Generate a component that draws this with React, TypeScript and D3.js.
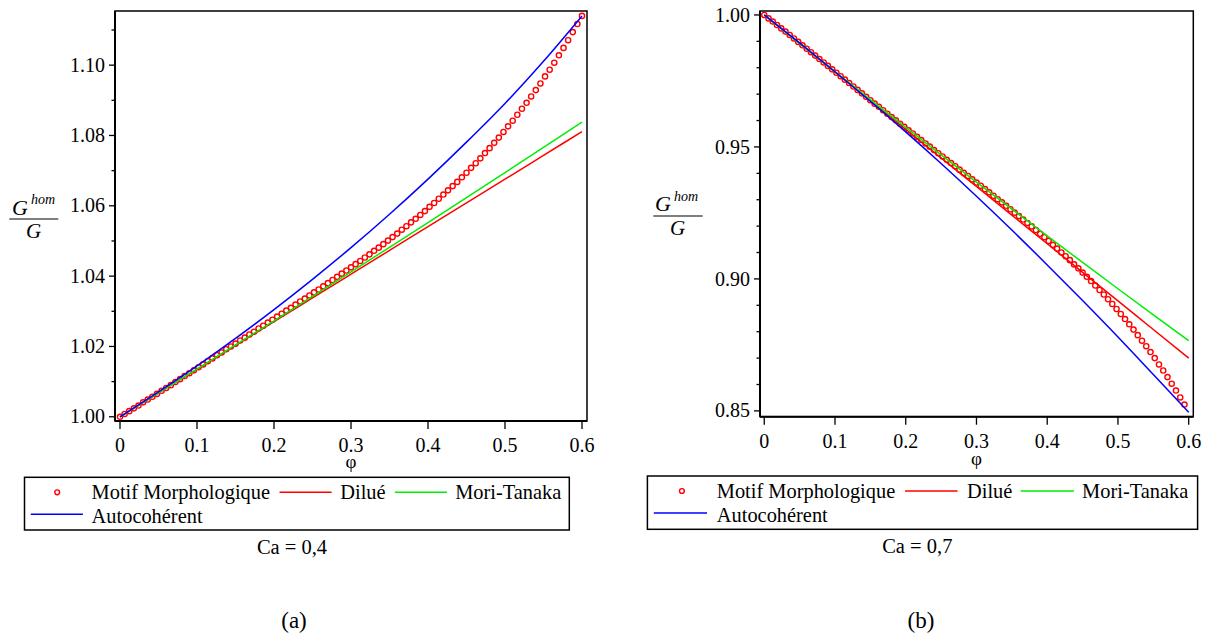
import React from 'react';
import * as d3 from 'd3';

// ---------- data ----------
const phiTicks = [0, 0.1, 0.2, 0.3, 0.4, 0.5, 0.6];
const phiTickLabels = ['0', '0.1', '0.2', '0.3', '0.4', '0.5', '0.6'];
const phiLine = [0, 0.05, 0.1, 0.15, 0.2, 0.25, 0.3, 0.35, 0.4, 0.45, 0.5, 0.55, 0.6];

// Ca = 0,4
const leftDilue = [1.0, 1.00676, 1.01352, 1.02028, 1.02703, 1.03379, 1.04055, 1.04731, 1.05407, 1.06083, 1.06758, 1.07434, 1.0811];
const leftMT = [1.0, 1.00677, 1.01358, 1.02042, 1.0273, 1.03423, 1.04119, 1.04819, 1.05523, 1.06231, 1.06943, 1.0766, 1.0838];
const leftAuto = [1.0, 1.0071, 1.0145, 1.0223, 1.0305, 1.0391, 1.0481, 1.0576, 1.0676, 1.0781, 1.0891, 1.1011, 1.114];
const leftMotif = [
  1.0, 1.0008, 1.0016, 1.0024, 1.0032, 1.0041, 1.0049, 1.0057, 1.0065, 1.0074,
  1.0082, 1.009, 1.0099, 1.0107, 1.0116, 1.0124, 1.0132, 1.0141, 1.0149, 1.0158,
  1.0166, 1.0175, 1.0183, 1.0192, 1.02, 1.0208, 1.0217, 1.0225, 1.0234, 1.0242,
  1.0251, 1.0259, 1.0268, 1.0276, 1.0285, 1.0293, 1.0302, 1.031, 1.0319, 1.0328,
  1.0336, 1.0345, 1.0354, 1.0362, 1.0371, 1.038, 1.0389, 1.0398, 1.0407, 1.0416,
  1.0425, 1.0434, 1.0443, 1.0453, 1.0462, 1.0472, 1.0481, 1.0491, 1.0501, 1.0511,
  1.0521, 1.0532, 1.0542, 1.0553, 1.0563, 1.0574, 1.0585, 1.0597, 1.0608, 1.062,
  1.0632, 1.0644, 1.0656, 1.0668, 1.0681, 1.0694, 1.0708, 1.0721, 1.0735, 1.075,
  1.0764, 1.0779, 1.0794, 1.081, 1.0826, 1.0842, 1.0859, 1.0876, 1.0893, 1.0911,
  1.0929, 1.0948, 1.0968, 1.0987, 1.1007, 1.1028, 1.1049, 1.1071, 1.1094, 1.1117,
  1.114,
];

// Ca = 0,7
const rightDilue = [1.0, 0.98917, 0.97833, 0.9675, 0.95667, 0.94583, 0.935, 0.92417, 0.91333, 0.9025, 0.89167, 0.88083, 0.87];
const rightMT = [1.0, 0.98921, 0.97852, 0.96793, 0.95742, 0.94701, 0.93669, 0.92646, 0.9163, 0.90625, 0.89627, 0.88639, 0.8766];
const rightAuto = [1.0, 0.9894, 0.9785, 0.9673, 0.9557, 0.9437, 0.9313, 0.9185, 0.9053, 0.8918, 0.878, 0.8638, 0.8495];
const rightMotif = [
  1.0, 0.9987, 0.9975, 0.9962, 0.9949, 0.9937, 0.9924, 0.9911, 0.9898, 0.9885,
  0.9872, 0.9859, 0.9846, 0.9833, 0.982, 0.9807, 0.9794, 0.9781, 0.9768, 0.9755,
  0.9742, 0.9729, 0.9716, 0.9703, 0.969, 0.9677, 0.9664, 0.9652, 0.9639, 0.9626,
  0.9613, 0.9601, 0.9588, 0.9576, 0.9563, 0.9551, 0.9538, 0.9526, 0.9513, 0.9501,
  0.9488, 0.9476, 0.9464, 0.9451, 0.9439, 0.9427, 0.9414, 0.9402, 0.939, 0.9377,
  0.9365, 0.9353, 0.934, 0.9328, 0.9315, 0.9302, 0.929, 0.9277, 0.9264, 0.9251,
  0.9238, 0.9225, 0.9212, 0.9199, 0.9185, 0.9171, 0.9158, 0.9144, 0.9129, 0.9115,
  0.91, 0.9086, 0.9071, 0.9055, 0.904, 0.9024, 0.9008, 0.8992, 0.8975, 0.8958,
  0.8941, 0.8923, 0.8905, 0.8886, 0.8867, 0.8848, 0.8828, 0.8808, 0.8787, 0.8766,
  0.8745, 0.8723, 0.87, 0.8676, 0.8653, 0.8628, 0.8603, 0.8577, 0.8551, 0.8524,
];
const motifStep = 0.006;

const leftYTicks = [1.0, 1.02, 1.04, 1.06, 1.08, 1.1];
const leftYMinor = [1.01, 1.03, 1.05, 1.07, 1.09, 1.11];
const rightYTicks = [0.85, 0.9, 0.95, 1.0];
const rightYMinor = [0.86, 0.87, 0.88, 0.89, 0.91, 0.92, 0.93, 0.94, 0.96, 0.97, 0.98, 0.99];

const legendLabels = ['Motif Morphologique', 'Dilué', 'Mori-Tanaka', 'Autocohérent'];
const captions = ['Ca = 0,4', 'Ca = 0,7'];
const panelTags = ['(a)', '(b)'];

// ---------- style ----------
const RED = '#ff0000';
const GREEN = '#00ee00';
const BLUE = '#0000ff';
const FONT = 'Liberation Serif';

type Layout = {
  x0: number; x1: number; y0: number; y1: number;
  xDom: [number, number]; yDom: [number, number];
  yFmt: (v: number) => string;
  yTicks: number[]; yMinor: number[];
  phiBase: number; tickBase: number;
  lab: { topGx: number; topGy: number; homX: number; homY: number; barX0: number; barX1: number; barY: number; botGx: number; botGy: number };
  legend: { bx0: number; bx1: number; by0: number; by1: number; marker: number; motifText: number; red: [number, number]; diluText: number; green: [number, number]; mtText: number; blue: [number, number]; autoText: number };
  capX: number; capY: number; tagX: number; tagY: number;
};

const leftLayout: Layout = {
  x0: 115, x1: 587, y0: 11, y1: 421,
  xDom: [-0.0065, 0.6065], yDom: [0.9988, 1.1154],
  yFmt: d3.format('.2f'),
  yTicks: leftYTicks, yMinor: leftYMinor,
  phiBase: 468, tickBase: 452,
  lab: { topGx: 12, topGy: 215, homX: 31, homY: 204, barX0: 9.3, barX1: 58.3, barY: 219, botGx: 33.5, botGy: 238 },
  legend: { bx0: 24.5, bx1: 569.3, by0: 477.3, by1: 530, marker: 57.2, motifText: 91.6, red: [279.5, 331.6], diluText: 340.3, green: [394.8, 446.9], mtText: 455.2, blue: [30.8, 82.9], autoText: 91.6 },
  capX: 292, capY: 554, tagX: 294, tagY: 628,
};

const rightLayout: Layout = {
  x0: 760, x1: 1193.3, y0: 11, y1: 416.7,
  xDom: [-0.006, 0.6065], yDom: [0.8478, 1.0015],
  yFmt: d3.format('.2f'),
  yTicks: rightYTicks, yMinor: rightYMinor,
  phiBase: 465, tickBase: 448,
  lab: { topGx: 655, topGy: 211, homX: 674, homY: 201, barX0: 653.3, barX1: 702.7, barY: 216, botGx: 677.5, botGy: 235 },
  legend: { bx0: 647.4, bx1: 1197.6, by0: 476, by1: 529.3, marker: 681.9, motifText: 716.8, red: [905, 957.6], diluText: 967, green: [1020.6, 1073.9], mtText: 1082.1, blue: [653.8, 707], autoText: 716.8 },
  capX: 917.3, capY: 553, tagX: 921, tagY: 628,
};

function T({ x, y, size, italic, anchor, dy, children }: { x: number; y: number; size: number; italic?: boolean; anchor?: string; dy?: string; children: React.ReactNode }) {
  return (
    <text x={x} y={y} dy={dy} fontFamily={FONT} fontSize={size} fontStyle={italic ? 'italic' : 'normal'} textAnchor={anchor || 'start'} fill="#000">
      {children}
    </text>
  );
}

function Panel({ L, dilue, mt, auto, motif, caption, tag }: { L: Layout; dilue: number[]; mt: number[]; auto: number[]; motif: number[]; caption: string; tag: string }) {
  const x = d3.scaleLinear().domain(L.xDom).range([L.x0, L.x1]);
  const y = d3.scaleLinear().domain(L.yDom).range([L.y1, L.y0]);
  const line = d3.line<[number, number]>().x(d => x(d[0])).y(d => y(d[1])).curve(d3.curveMonotoneX);
  const mk = (vals: number[]) => line(phiLine.map((p, i) => [p, vals[i]] as [number, number])) || '';
  const lg = L.legend;
  const r1 = lg.by0 + 15;
  const r2 = lg.by0 + 37;
  const t1 = lg.by0 + 21.5;
  const t2 = lg.by0 + 45.5;
  return (
    <g>
      {/* markers */}
      <g fill="none" stroke={RED} strokeWidth={1.4}>
        {motif.map((v, i) => (
          <circle key={i} cx={x(i * motifStep)} cy={y(v)} r={2.6} />
        ))}
      </g>
      <path d={mk(dilue)} fill="none" stroke={RED} strokeWidth={1.5} />
      <path d={mk(mt)} fill="none" stroke={GREEN} strokeWidth={1.5} />
      <path d={mk(auto)} fill="none" stroke={BLUE} strokeWidth={1.5} />
      {/* frame */}
      <rect x={L.x0} y={L.y0} width={L.x1 - L.x0} height={L.y1 - L.y0} fill="none" stroke="#000" strokeWidth={1.5} />
      <line x1={L.x0} x2={L.x0} y1={L.y0} y2={L.y1} stroke="#000" strokeWidth={2} />
      <line x1={L.x0} x2={L.x1} y1={L.y1} y2={L.y1} stroke="#000" strokeWidth={2} />
      {/* y ticks */}
      {L.yTicks.map(t => (
        <g key={'y' + t}>
          <line x1={L.x0 - 6} x2={L.x0} y1={y(t)} y2={y(t)} stroke="#000" strokeWidth={1.3} />
          <T x={L.x0 - 10} y={y(t)} dy="0.33em" anchor="end" size={20}>{L.yFmt(t)}</T>
        </g>
      ))}
      {L.yMinor.map(t => (
        <line key={'ym' + t} x1={L.x0 - 3.5} x2={L.x0} y1={y(t)} y2={y(t)} stroke="#000" strokeWidth={1.3} />
      ))}
      {/* x ticks */}
      {phiTicks.map((t, i) => (
        <g key={'x' + t}>
          <line x1={x(t)} x2={x(t)} y1={L.y1} y2={L.y1 + 8} stroke="#000" strokeWidth={1.3} />
          <T x={x(t)} y={L.tickBase} anchor="middle" size={20}>{phiTickLabels[i]}</T>
        </g>
      ))}
      <T x={x(0.3)} y={L.phiBase} anchor="middle" size={19}>φ</T>
      {/* y label */}
      <T x={L.lab.topGx} y={L.lab.topGy} size={22} italic>G</T>
      <T x={L.lab.homX} y={L.lab.homY} size={14} italic>hom</T>
      <line x1={L.lab.barX0} x2={L.lab.barX1} y1={L.lab.barY} y2={L.lab.barY} stroke="#000" strokeWidth={1.2} />
      <T x={L.lab.botGx} y={L.lab.botGy} anchor="middle" size={21} italic>G</T>
      {/* legend */}
      <rect x={lg.bx0} y={lg.by0} width={lg.bx1 - lg.bx0} height={lg.by1 - lg.by0} fill="none" stroke="#000" strokeWidth={1.5} />
      <circle cx={lg.marker} cy={r1} r={2.4} fill="none" stroke={RED} strokeWidth={1.4} />
      <line x1={lg.red[0]} x2={lg.red[1]} y1={r1} y2={r1} stroke={RED} strokeWidth={1.5} />
      <line x1={lg.green[0]} x2={lg.green[1]} y1={r1} y2={r1} stroke={GREEN} strokeWidth={1.5} />
      <line x1={lg.blue[0]} x2={lg.blue[1]} y1={r2} y2={r2} stroke={BLUE} strokeWidth={1.5} />
      <T x={lg.motifText} y={t1} size={20.4}>{legendLabels[0]}</T>
      <T x={lg.diluText} y={t1} size={20.4}>{legendLabels[1]}</T>
      <T x={lg.mtText} y={t1} size={20.4}>{legendLabels[2]}</T>
      <T x={lg.autoText} y={t2} size={20.4}>{legendLabels[3]}</T>
      <T x={L.capX} y={L.capY} anchor="middle" size={20.5}>{caption}</T>
      <T x={L.tagX} y={L.tagY} anchor="middle" size={23}>{tag}</T>
    </g>
  );
}

export default function App() {
  return (
    <svg width={1209} height={638} style={{ position: 'absolute', left: 0, top: 0, background: '#fff' }}>
      <rect x={0} y={0} width={1209} height={638} fill="#fff" />
      <Panel L={leftLayout} dilue={leftDilue} mt={leftMT} auto={leftAuto} motif={leftMotif} caption={captions[0]} tag={panelTags[0]} />
      <Panel L={rightLayout} dilue={rightDilue} mt={rightMT} auto={rightAuto} motif={rightMotif} caption={captions[1]} tag={panelTags[1]} />
    </svg>
  );
}
